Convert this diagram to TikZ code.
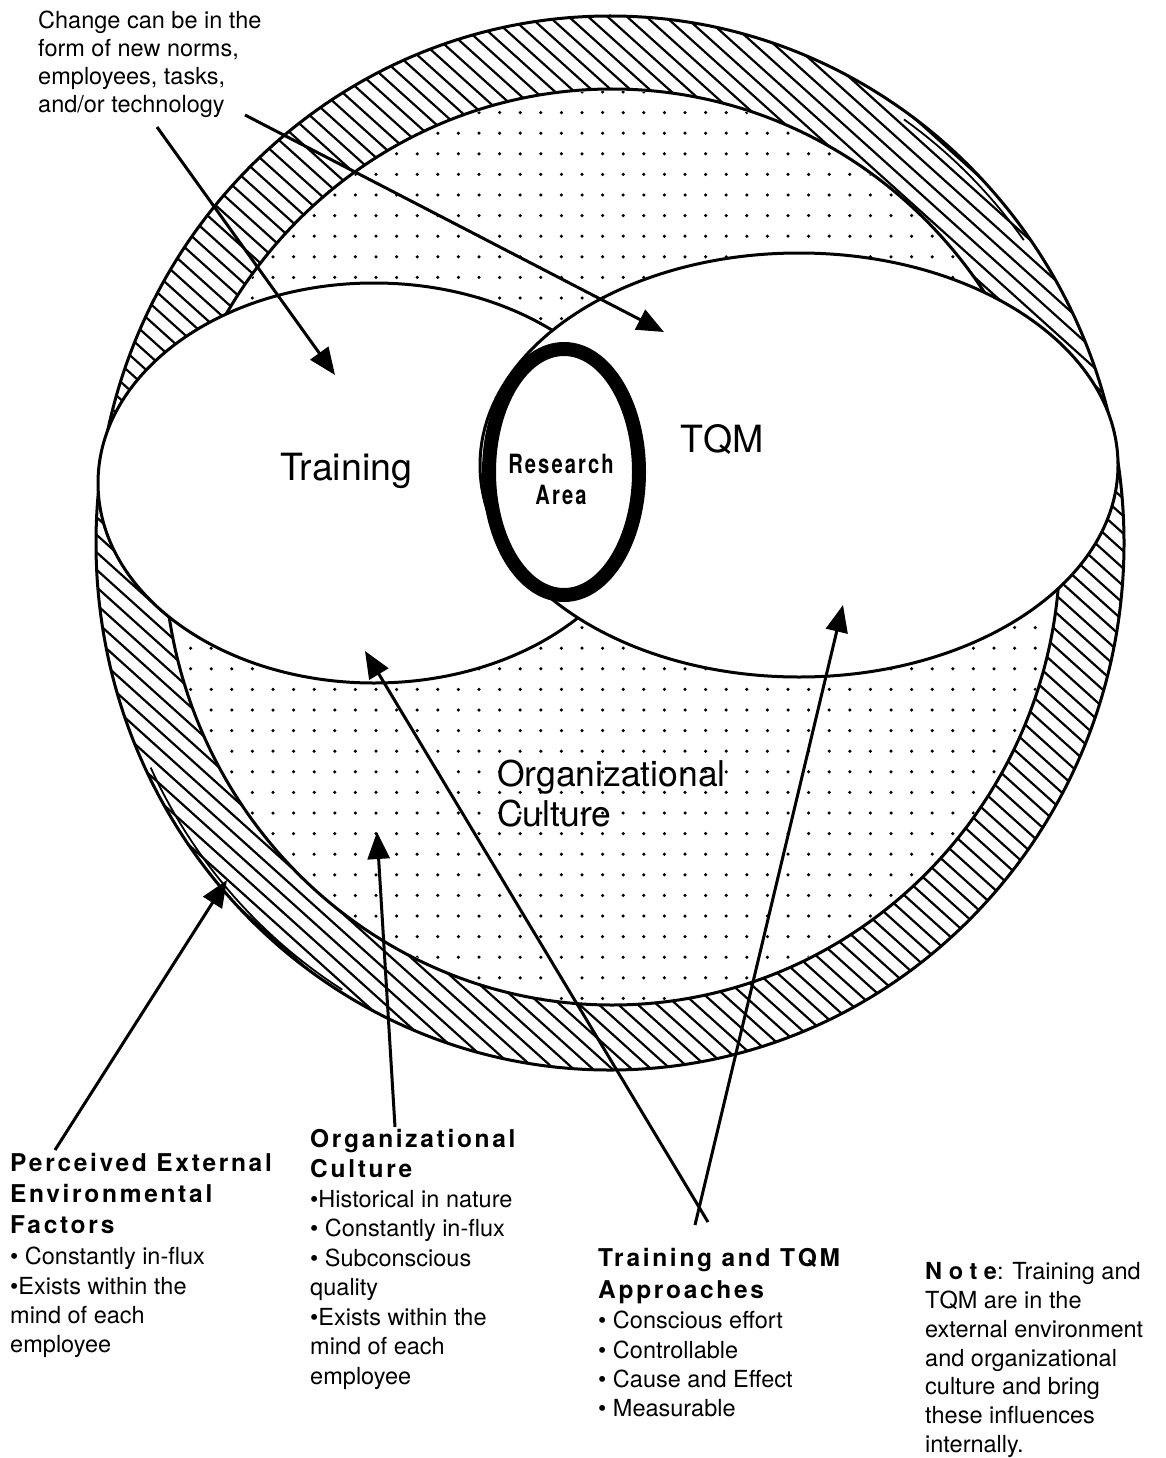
\documentclass[tikz,border=0pt]{standalone}
\usepackage{fontspec}
\setmainfont{TeX Gyre Heros}
\newfontfamily\headfont[LetterSpace=11]{TeX Gyre Heros}
\newfontfamily\notefont[LetterSpace=28]{TeX Gyre Heros}
\newfontfamily\rafont[FakeStretch=0.76,LetterSpace=8]{TeX Gyre Heros}
\usetikzlibrary{arrows.meta}
\begin{document}
\begin{tikzpicture}[x=1pt,y=-1pt,
  body/.style={inner sep=0pt, anchor=north west, align=left, font=\fontsize{23.5}{#1}\selectfont},
  body/.default=29.3,
  head/.style={inner sep=0pt, anchor=north west, align=left, font=\headfont\bfseries\fontsize{24.5}{#1}\selectfont},
  head/.default=31,
  bigtext/.style={inner sep=0pt, font=\fontsize{37.5}{40}\selectfont},
  pointer/.style={line width=3pt, -{Triangle[length=27pt,width=22pt]}},
  edge/.style={line width=3pt},
  hatchline/.style={line width=2.2pt}]
\fill[white] (0,0) rectangle (1165,1458);
\useasboundingbox (0,0) rectangle (1165,1458);

% external environment band (hatched)
\begin{scope}
  \clip (610,543) ellipse [x radius=514pt, y radius=527pt];
  \foreach \i in {-46,...,46} {
    \draw[hatchline] ({7+19.4*\i},0) -- ++(1221.7,1100);
  }
\end{scope}
\draw[edge] (610,543) ellipse [x radius=514pt, y radius=527pt];
\draw[line width=1.8pt] ([shift={(205:509pt and 522pt)}]612,547) arc [start angle=205, end angle=238, x radius=509pt, y radius=522pt];
\draw[line width=1.8pt] ([shift={(36:509pt and 522pt)}]612,547) arc [start angle=36, end angle=55, x radius=509pt, y radius=522pt];

% organizational culture (dotted)
\fill[white] (612,547) ellipse [x radius=448pt, y radius=458pt];
\begin{scope}
  \clip (612,547) ellipse [x radius=446pt, y radius=456pt];
  \foreach \i in {0,...,44} {
    \foreach \j in {0,...,45} {
      \fill ({170+20.6*\i},{92+20.6*\j}) circle [radius=1.75pt];
    }
  }
\end{scope}
\draw[edge] (612,547) ellipse [x radius=448pt, y radius=458pt];

% training and TQM ellipses
\draw[edge, fill=white] (374,483) ellipse [x radius=276pt, y radius=200pt];
\draw[edge, fill=white] (799,465) ellipse [x radius=319pt, y radius=212pt];

% research area
\draw[line width=14pt, fill=white] (564,472) ellipse [x radius=75pt, y radius=123pt];
\node[inner sep=0pt, align=center, font=\rafont\bfseries\fontsize{26.5}{31}\selectfont] (ra) at (561,479) {Research\\Area};

% labels inside
\node[bigtext, anchor=base west] (training) at (280,480) {Training};
\node[bigtext, anchor=base west] (tqm) at (680,452) {TQM};
\node[inner sep=0pt, anchor=north west, align=left, font=\fontsize{35.5}{40}\selectfont] (orgc) at (497,760) {Organizational\\Culture};

% text blocks
\node[body=28] (change) at (38,11) {Change can be in the\\form of new norms,\\employees, tasks,\\and/or technology};

\node[head] (pefh) at (10,1153) {Perceived External\\Environmental\\Factors};
\node[body] (pefb) at (10,1247) {• Constantly in-flux\\•Exists within the\\mind of each\\employee};

\node[head=30] (ocuh) at (310,1129) {Organizational\\Culture};
\node[body=29.5] (ocub) at (310,1190) {•Historical in nature\\• Constantly in-flux\\• Subconscious\\quality\\•Exists within the\\mind of each\\employee};

\node[head=32] (ttqh) at (598,1248) {Training and TQM\\Approaches};
\node[body] (ttqb) at (598,1311) {• Conscious effort\\• Controllable\\• Cause and Effect\\• Measurable};

\node[body=28.9] (note) at (925,1262) {{\notefont\bfseries Note}: Training and\\TQM are in the\\external environment\\and organizational\\culture and bring\\these influences\\internally.};

% connectors
\coordinate (t1) at (157,127);  \coordinate (h1) at (335,375);
\coordinate (t2) at (245,115);  \coordinate (h2) at (664,332);
\coordinate (t3) at (55,1150);  \coordinate (h3) at (227,880);
\coordinate (t4) at (395,1127); \coordinate (h4) at (377,832);
\coordinate (t5) at (708,1222); \coordinate (h5) at (365,651);
\coordinate (t6) at (695,1225); \coordinate (h6) at (843,605);
\draw[pointer] (t1) -- (h1);
\draw[pointer] (t2) -- (h2);
\draw[pointer] (t3) -- (h3);
\draw[pointer] (t4) -- (h4);
\draw[pointer] (t5) -- (h5);
\draw[pointer] (t6) -- (h6);
\end{tikzpicture}
\end{document}
